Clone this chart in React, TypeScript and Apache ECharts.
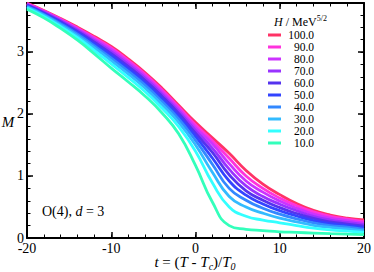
import React, { useEffect, useRef } from 'react';
import * as echarts from 'echarts';

const FONT = 'Liberation Serif';

const tValues = [-20, -18, -16, -14, -12, -10, -8, -6, -4, -2, 0, 2, 4, 6, 8, 10, 12, 14, 16, 18, 20];

const hLabels = ['100.0', '90.0', '80.0', '70.0', '60.0', '50.0', '40.0', '30.0', '20.0', '10.0'];

const m100 = [3.79, 3.67, 3.54, 3.40, 3.25, 3.09, 2.89, 2.67, 2.42, 2.14, 1.865, 1.615, 1.365, 1.09, 0.87, 0.70, 0.555, 0.445, 0.37, 0.32, 0.29];
const m90 = [3.783, 3.662, 3.529, 3.385, 3.23, 3.066, 2.864, 2.643, 2.392, 2.112, 1.825, 1.57, 1.285, 1.00, 0.80, 0.645, 0.52, 0.42, 0.35, 0.305, 0.265];
const m80 = [3.775, 3.652, 3.516, 3.369, 3.208, 3.038, 2.835, 2.613, 2.36, 2.08, 1.78, 1.52, 1.20, 0.92, 0.74, 0.595, 0.48, 0.385, 0.32, 0.28, 0.24];
const m70 = [3.766, 3.641, 3.502, 3.35, 3.183, 3.006, 2.801, 2.579, 2.324, 2.043, 1.735, 1.45, 1.11, 0.84, 0.67, 0.545, 0.44, 0.35, 0.29, 0.25, 0.215];
const m60 = [3.757, 3.63, 3.487, 3.331, 3.158, 2.975, 2.768, 2.545, 2.288, 2.007, 1.69, 1.38, 1.02, 0.76, 0.61, 0.49, 0.395, 0.315, 0.26, 0.225, 0.19];
const m50 = [3.747, 3.618, 3.471, 3.31, 3.13, 2.94, 2.731, 2.507, 2.248, 1.965, 1.64, 1.29, 0.92, 0.69, 0.55, 0.44, 0.355, 0.28, 0.23, 0.20, 0.165];
const m40 = [3.736, 3.605, 3.454, 3.287, 3.099, 2.901, 2.69, 2.465, 2.204, 1.919, 1.575, 1.19, 0.80, 0.61, 0.48, 0.385, 0.31, 0.245, 0.20, 0.175, 0.14];
const m30 = [3.724, 3.591, 3.434, 3.261, 3.065, 2.859, 2.646, 2.419, 2.156, 1.864, 1.50, 1.06, 0.67, 0.50, 0.40, 0.32, 0.26, 0.205, 0.17, 0.145, 0.115];
const m20 = [3.709, 3.573, 3.41, 3.23, 3.023, 2.807, 2.59, 2.362, 2.096, 1.795, 1.40, 0.89, 0.50, 0.35, 0.29, 0.245, 0.20, 0.16, 0.13, 0.11, 0.09];
const m10 = [3.69, 3.55, 3.38, 3.19, 2.97, 2.74, 2.52, 2.29, 2.02, 1.68, 1.17, 0.58, 0.20, 0.14, 0.12, 0.10, 0.09, 0.08, 0.07, 0.062, 0.055];

const seriesValues = [m100, m90, m80, m70, m60, m50, m40, m30, m20, m10];

const colors = ['#ff3366', '#ff33dd', '#cc33ff', '#9933ff', '#5533ee', '#3344ff', '#3388ff', '#33bbff', '#33ffff', '#33ffbb'];

const xTicks = { min: -20, max: 20, major: 10, minor: 2 };
const yTicks = { min: 0, max: 3.79, major: 1, minor: 0.2 };

export default function App() {
  const ref = useRef<HTMLDivElement>(null);

  useEffect(() => {
    const chart = echarts.init(ref.current!, null, { renderer: 'svg' });

    const black = '#000';
    const majorX = (position: string, labels: boolean) => ({
      type: 'value',
      position,
      min: xTicks.min,
      max: xTicks.max,
      interval: xTicks.major,
      axisLine: { show: true, onZero: false, lineStyle: { color: black, width: 2 } },
      axisTick: { show: true, inside: true, length: 6, lineStyle: { color: black, width: 1.5 } },
      axisLabel: { show: labels, margin: 3, fontSize: 14, color: black, fontFamily: FONT },
      splitLine: { show: false },
    });
    const minorX = (position: string) => ({
      type: 'value',
      position,
      min: xTicks.min,
      max: xTicks.max,
      interval: xTicks.minor,
      axisLine: { show: false, onZero: false },
      axisTick: { show: true, inside: true, length: 3.5, lineStyle: { color: black, width: 1 } },
      axisLabel: { show: false },
      splitLine: { show: false },
    });
    const majorY = (position: string, labels: boolean) => ({
      type: 'value',
      position,
      min: yTicks.min,
      max: yTicks.max,
      interval: yTicks.major,
      axisLine: { show: true, onZero: false, lineStyle: { color: black, width: 2 } },
      axisTick: { show: true, inside: true, length: 6, lineStyle: { color: black, width: 1.5 } },
      axisLabel: { show: labels, margin: 3, fontSize: 14, color: black, fontFamily: FONT, showMaxLabel: false },
      splitLine: { show: false },
    });
    const minorY = (position: string) => ({
      type: 'value',
      position,
      min: yTicks.min,
      max: yTicks.max,
      interval: yTicks.minor,
      axisLine: { show: false, onZero: false },
      axisTick: { show: true, inside: true, length: 3.5, lineStyle: { color: black, width: 1 } },
      axisLabel: { show: false },
      splitLine: { show: false },
    });

    const series = seriesValues.map((vals, i) => ({
      type: 'line',
      name: hLabels[i],
      xAxisIndex: 0,
      yAxisIndex: 0,
      data: tValues.map((t, j) => [t, vals[j]]),
      smooth: 0.5,
      showSymbol: false,
      symbol: 'none',
      lineStyle: { color: colors[i], width: 2.8 },
      itemStyle: { color: colors[i] },
      z: 2,
    }));

    const option: any = {
      animation: false,
      backgroundColor: '#fff',
      textStyle: { fontFamily: FONT },
      grid: { left: 27, right: 9, top: 3, bottom: 34, containLabel: false },
      xAxis: [majorX('bottom', true), majorX('top', false), minorX('bottom'), minorX('top')],
      yAxis: [majorY('left', true), majorY('right', false), minorY('left'), minorY('right')],
      legend: {
        orient: 'vertical',
        left: 268,
        top: 29,
        padding: 0,
        itemWidth: 13,
        itemHeight: 3,
        itemGap: 0,
        icon: 'rect',
        selectedMode: false,
        data: hLabels,
        formatter: (name: string) => `{r|${name}}`,
        textStyle: {
          fontFamily: FONT,
          fontSize: 11,
          color: black,
          lineHeight: 11.4,
          rich: { r: { width: 28, align: 'right', fontFamily: FONT, fontSize: 11.5, lineHeight: 11.4, color: black } },
        },
      },
      graphic: [
        {
          type: 'text',
          left: 274,
          top: 14,
          style: {
            text: '{i|H} / MeV{sup|5/2}',
            fontFamily: FONT,
            fontSize: 12,
            lineHeight: 16,
            fill: black,
            rich: {
              i: { fontStyle: 'italic', fontFamily: FONT, fontSize: 12, lineHeight: 16, fill: black },
              sup: { fontFamily: FONT, fontSize: 8, lineHeight: 8, verticalAlign: 'top', fill: black },
            },
          },
        },
        {
          type: 'text',
          x: 195,
          y: 262,
          style: {
            text: '{i|t} = ({i|T} - {i|T}{sub|c})/{i|T}{sub|0}',
            fontFamily: FONT,
            fontSize: 15,
            lineHeight: 18,
            fill: black,
            align: 'center',
            verticalAlign: 'middle',
            rich: {
              i: { fontStyle: 'italic', fontFamily: FONT, fontSize: 15, lineHeight: 18, fill: black },
              sub: { fontStyle: 'italic', fontFamily: FONT, fontSize: 10, lineHeight: 10, verticalAlign: 'bottom', fill: black },
            },
          },
        },
        {
          type: 'text',
          x: 8,
          y: 122,
          style: {
            text: 'M',
            fontFamily: FONT,
            fontStyle: 'italic',
            fontSize: 15,
            fill: black,
            align: 'center',
            verticalAlign: 'middle',
          },
        },
        {
          type: 'text',
          x: 42,
          y: 211,
          style: {
            text: 'O(4), {i|d} = 3',
            fontFamily: FONT,
            fontSize: 14,
            fill: black,
            align: 'left',
            verticalAlign: 'middle',
            rich: { i: { fontStyle: 'italic', fontFamily: FONT, fontSize: 14, fill: black } },
          },
        },
      ],
      series,
    };

    chart.setOption(option);
    return () => chart.dispose();
  }, []);

  return <div ref={ref} style={{ position: 'fixed', left: 0, top: 0, width: 374, height: 272 }} />;
}
